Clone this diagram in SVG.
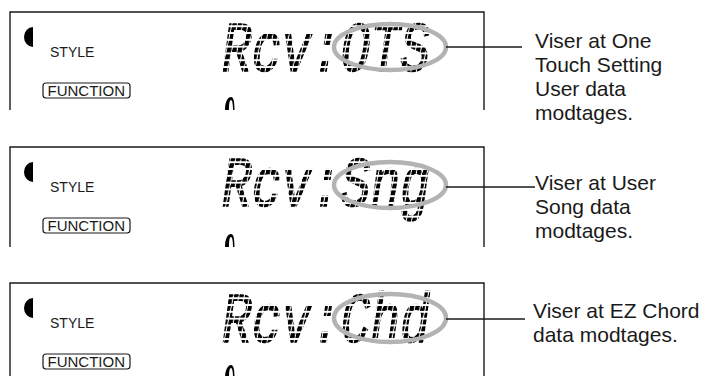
<svg xmlns="http://www.w3.org/2000/svg" width="709" height="376" viewBox="0 0 709 376">
<style>
.frame{fill:none;stroke:#1a1a1a;stroke-width:1.4}
.lcd{font-family:"Liberation Mono",monospace;font-style:italic;font-size:70px;fill:url(#dots);stroke:url(#dots);stroke-width:1.6}
.hl{fill:none;stroke:#b3b3b3;stroke-width:4.5}
.lbl{font-family:"Liberation Sans",Arial,sans-serif;font-size:21px;fill:#1a1a1a}
.small{font-family:"Liberation Sans",Arial,sans-serif;font-size:14px;fill:#1a1a1a}
.fn{font-family:"Liberation Sans",Arial,sans-serif;font-size:15px;fill:#1a1a1a}
.fnbox{fill:none;stroke:#1a1a1a;stroke-width:1.2}
.lead{stroke:#1a1a1a;stroke-width:1.4;fill:none}
.ink{fill:#000}
</style>
<defs>
<pattern id="dots" patternUnits="userSpaceOnUse" width="5.4" height="6.8" patternTransform="skewX(-12)">
<rect width="4.3" height="4.8" fill="#000"/>
</pattern>
<g id="panelbits">
<path class="ink" d="M33,15 A9,10 0 0 0 33,35 Z"/>
<text class="small" x="50" y="45">STYLE</text>
<rect class="fnbox" x="43" y="71" width="87" height="15" rx="3"/>
<text class="fn" x="47.5" y="83.8">FUNCTION</text>
</g>
</defs>

<g id="panel1">
<path class="frame" d="M10,110 V12 H484 V110"/>
<use href="#panelbits" y="12"/>
<text class="lcd" x="222" y="71" textLength="208" lengthAdjust="spacingAndGlyphs">Rcv:OTS</text>
<ellipse class="hl" cx="390" cy="47" rx="56" ry="23"/>
<path class="ink" d="M225,110 C225,101 228,97 231,97 C233.5,97 234.5,101 234.5,110 L233,110 C233,104 232.3,100 231,100 C229.5,100 229,104 229,110 Z"/>
</g>

<g id="panel2">
<path class="frame" d="M10,247 V147 H484 V247"/>
<use href="#panelbits" y="147"/>
<text class="lcd" x="222" y="206" textLength="208" lengthAdjust="spacingAndGlyphs">Rcv:Sng</text>
<ellipse class="hl" cx="390" cy="185" rx="56" ry="23"/>
<path class="ink" d="M225,247 C225,238 228,234 231,234 C233.5,234 234.5,238 234.5,247 L233,247 C233,241 232.3,237 231,237 C229.5,237 229,241 229,247 Z"/>
</g>

<g id="panel3">
<path class="frame" d="M10,380 V283 H484 V380"/>
<use href="#panelbits" y="283"/>
<text class="lcd" x="222" y="342" textLength="208" lengthAdjust="spacingAndGlyphs">Rcv:Chd</text>
<ellipse class="hl" cx="390" cy="318" rx="56" ry="24"/>
<path class="ink" d="M225,378 C225,370 228,365 231,365 C233.5,365 234.5,369 234.5,378 L233,378 C233,372 232.3,368 231,368 C229.5,368 229,372 229,378 Z"/>
</g>

<g id="connectors">
<line class="lead" x1="446" y1="47" x2="522" y2="47"/>
<line class="lead" x1="446" y1="187" x2="535" y2="187"/>
<line class="lead" x1="446" y1="319" x2="525" y2="319"/>
</g>

<g id="label1">
<text class="lbl" x="535" y="48">Viser at One</text>
<text class="lbl" x="535" y="72">Touch Setting</text>
<text class="lbl" x="535" y="96">User data</text>
<text class="lbl" x="535" y="120">modtages.</text>
</g>
<g id="label2">
<text class="lbl" x="535" y="190">Viser at User</text>
<text class="lbl" x="535" y="214">Song data</text>
<text class="lbl" x="535" y="238">modtages.</text>
</g>
<g id="label3">
<text class="lbl" x="533" y="318">Viser at EZ Chord</text>
<text class="lbl" x="533" y="342">data modtages.</text>
</g>
</svg>
